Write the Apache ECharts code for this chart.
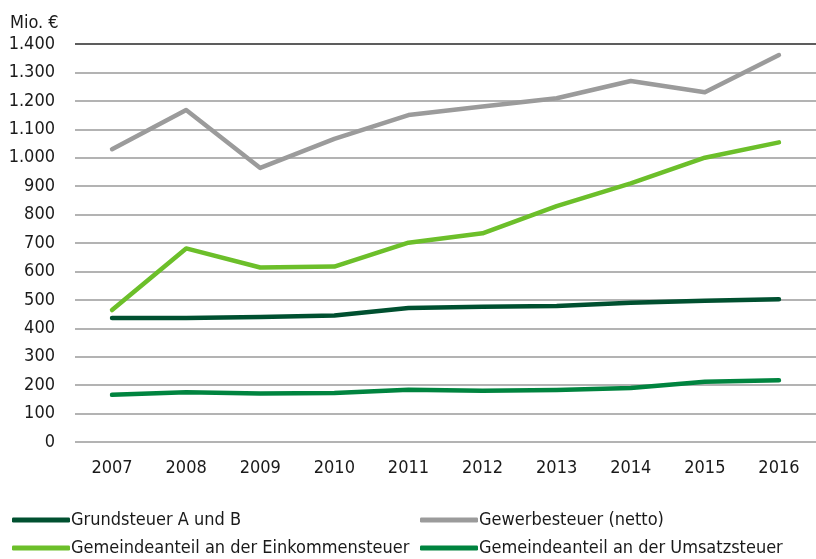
<!DOCTYPE html>
<html><head><meta charset="utf-8">
<script src="https://cdn.jsdelivr.net/npm/echarts@6/dist/echarts.min.js"></script>
<style>html,body{margin:0;padding:0;background:#fff}#c{width:816px;height:559px}</style>
</head><body><div id="c"></div>
<script>
const years = ['2007','2008','2009','2010','2011','2012','2013','2014','2015','2016'];
const grundsteuer = [436, 436, 440, 445, 471, 476, 478, 490, 497, 502];
const gewerbesteuer = [1030, 1168, 964, 1066, 1150, 1180, 1209, 1270, 1230, 1361];
const einkommensteuer = [464, 681, 614, 617, 701, 734, 830, 910, 1000, 1054];
const umsatzsteuer = [166, 175, 171, 172, 184, 180, 183, 190, 212, 217];
const names = ['Grundsteuer A und B','Gewerbesteuer (netto)','Gemeindeanteil an der Einkommensteuer','Gemeindeanteil an der Umsatzsteuer'];
const colors = ['#005030','#9b9b9b','#6cbf2a','#00843f'];
const font = 'DejaVu Sans Condensed';
const fmt = v => String(v).replace(/\B(?=(\d{3})+(?!\d))/g, '.');
const chart = echarts.init(document.getElementById('c'));
function line(i, data){
  return {name:names[i], type:'line', data:data, symbol:'none', smooth:false,
    lineStyle:{color:colors[i], width:4.5, cap:'round', join:'round'}, itemStyle:{color:colors[i]}};
}
function leg(i, left, top){
  return {left:left, top:top, padding:0, data:[names[i]], itemWidth:58, itemHeight:5, icon:'roundRect',
    textStyle:{fontFamily:font, fontSize:18, color:'#1a1a1a', padding:[0,0,0,-4]}};
}
chart.setOption({
  animation:false,
  textStyle:{fontFamily:font},
  grid:{left:75, top:44, width:748, height:398, containLabel:false},
  xAxis:{type:'category', data:years, boundaryGap:true,
    axisLine:{show:false}, axisTick:{show:false},
    axisLabel:{fontFamily:font, fontSize:18, color:'#1a1a1a', margin:17}},
  yAxis:{type:'value', min:0, max:1400, interval:100,
    name:'Mio. €', nameLocation:'end', nameGap:12,
    nameTextStyle:{fontFamily:font, fontSize:18, color:'#1a1a1a', align:'left', padding:[0,0,0,-65]},
    axisLine:{show:false}, axisTick:{show:false},
    axisLabel:{fontFamily:font, fontSize:18, color:'#1a1a1a', margin:20, formatter:fmt},
    splitLine:{lineStyle:{color:'#9a9a9a', width:1.5}}},
  legend:[leg(0, 12, 511), leg(2, 12, 539), leg(1, 420, 511), leg(3, 420, 539)],
  series:[
    line(0, grundsteuer), line(1, gewerbesteuer), line(2, einkommensteuer), line(3, umsatzsteuer),
    {type:'line', data:[], markLine:{silent:true, symbol:'none', label:{show:false},
      lineStyle:{color:'#404040', width:1.5, type:'solid'}, data:[{yAxis:1400}]}}
  ]
});
</script></body></html>
